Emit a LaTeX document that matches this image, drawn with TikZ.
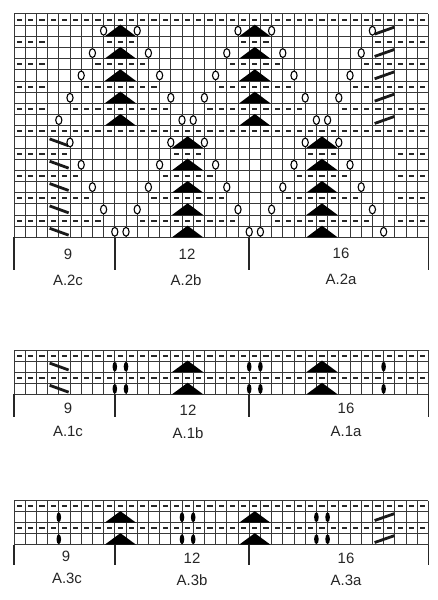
\documentclass[tikz,border=0pt]{standalone}
\usepackage{fontspec}
\setmainfont{Liberation Sans}
\newcommand\kDash[3]{\foreach \kk in {#2,...,#3} {\fill[black!85] (\kk-0.5,#1-0.5) ++(-2.6bp,-1bp) rectangle ++(5.2bp,2bp);}}
\newcommand\kTri[2]{\fill[black] (#1+0.1,#2) -- (#1+1.5,#2-1.05) -- (#1+2.9,#2) -- cycle;}
\newcommand\kYo[2]{\draw[yosym] (#1,#2-0.5) ellipse [x radius=3.1bp, y radius=4.4bp];}
\newcommand\kBob[2]{\fill[black] (#1,#2-0.5) ellipse [x radius=2.3bp, y radius=5bp];}
\newcommand\kSlD[2]{\draw[cablesym] (#1+0.18,#2-0.82) -- (#1+1.88,#2-0.2);}
\newcommand\kSlU[2]{\draw[cablesym] (#1+0.2,#2-0.2) -- (#1+1.95,#2-0.82);}
\newcommand\kGrid[1]{%
  \foreach \ii in {0,...,37} {\draw[gridline] (\ii,0) -- (\ii,#1);}
  \foreach \jj in {0,...,#1} {\draw[gridline] (0,\jj) -- (37,\jj);}}
\begin{document}
\begin{tikzpicture}[x=1bp,y=-1bp,
  gridline/.style={line width=1bp, draw=black!78},
  tickline/.style={line width=1.6bp, draw=black!85},
  yosym/.style={draw=black, fill=white, line width=1.1bp},
  cablesym/.style={line width=2.8bp, draw=black!90},
  lbl/.style={font=\fontsize{15}{17}\selectfont, text=black!85, inner sep=0pt}]
\useasboundingbox (0,0) rectangle (438,600);
\fill[white] (0,0) rectangle (438,600);

% ---------------- A.2 ----------------
\begin{scope}[shift={(14,14)}, x=11.2bp, y=-11.17bp]
  \kGrid{20}
  \kDash{1}{1}{37}
  \kDash{11}{1}{37}
  \foreach \j in {0,...,3} {
    \pgfmathtruncatemacro\rr{3+2*\j}
    \pgfmathtruncatemacro\pA{9-\j}
    \pgfmathtruncatemacro\pB{11+\j}
    \pgfmathtruncatemacro\pC{21-\j}
    \pgfmathtruncatemacro\pD{23+\j}
    \pgfmathtruncatemacro\pE{33-\j}
    \kDash{\rr}{1}{3}
    \kDash{\rr}{\pA}{\pB}
    \kDash{\rr}{\pC}{\pD}
    \kDash{\rr}{\pE}{37}
  }
  \foreach \j in {0,...,3} {
    \pgfmathtruncatemacro\rr{13+2*\j}
    \pgfmathtruncatemacro\pA{5+\j}
    \pgfmathtruncatemacro\pB{15-\j}
    \pgfmathtruncatemacro\pC{17+\j}
    \pgfmathtruncatemacro\pD{27-\j}
    \pgfmathtruncatemacro\pE{29+\j}
    \kDash{\rr}{1}{\pA}
    \kDash{\rr}{\pB}{\pC}
    \kDash{\rr}{\pD}{\pE}
    \kDash{\rr}{35}{37}
  }
  \foreach \j in {0,...,4} {
    \pgfmathtruncatemacro\rr{2+2*\j}
    \kTri{8}{\rr} \kTri{20}{\rr} \kSlU{32}{\rr}
    \kYo{8-\j}{\rr} \kYo{11+\j}{\rr} \kYo{20-\j}{\rr} \kYo{23+\j}{\rr} \kYo{32-\j}{\rr}
  }
  \foreach \j in {0,...,4} {
    \pgfmathtruncatemacro\rr{12+2*\j}
    \kTri{14}{\rr} \kTri{26}{\rr} \kSlD{3}{\rr}
    \kYo{5+\j}{\rr} \kYo{14-\j}{\rr} \kYo{17+\j}{\rr} \kYo{26-\j}{\rr} \kYo{29+\j}{\rr}
  }
\end{scope}
\foreach \xx in {14,114.8,249.2,428.4} {\draw[tickline] (\xx,237.4) -- (\xx,270);}
\node[lbl] (n2c) at (68,254) {9};
\node[lbl] (l2c) at (68,280) {A.2c};
\node[lbl] (n2b) at (187,254) {12};
\node[lbl] (l2b) at (186,280) {A.2b};
\node[lbl] (n2a) at (341,253) {16};
\node[lbl] (l2a) at (341,279) {A.2a};

% ---------------- A.1 ----------------
\begin{scope}[shift={(14,350)}, x=11.2bp, y=-11.1bp]
  \kGrid{4}
  \kDash{1}{1}{37}
  \kDash{3}{1}{37}
  \foreach \rr in {2,4} {
    \kSlD{3}{\rr} \kTri{14}{\rr} \kTri{26}{\rr}
    \kBob{9}{\rr} \kBob{10}{\rr} \kBob{21}{\rr} \kBob{22}{\rr} \kBob{33}{\rr}
  }
\end{scope}
\foreach \xx in {14,114.8,249.2,428.4} {\draw[tickline] (\xx,394.4) -- (\xx,417);}
\node[lbl] (n1c) at (68,408) {9};
\node[lbl] (l1c) at (68,431) {A.1c};
\node[lbl] (n1b) at (188,410) {12};
\node[lbl] (l1b) at (188,433) {A.1b};
\node[lbl] (n1a) at (346,408) {16};
\node[lbl] (l1a) at (346,431) {A.1a};

% ---------------- A.3 ----------------
\begin{scope}[shift={(14,500.7)}, x=11.2bp, y=-11.0bp]
  \kGrid{4}
  \kDash{1}{1}{37}
  \kDash{3}{1}{37}
  \foreach \rr in {2,4} {
    \kTri{8}{\rr} \kTri{20}{\rr} \kSlU{32}{\rr}
    \kBob{4}{\rr} \kBob{15}{\rr} \kBob{16}{\rr} \kBob{27}{\rr} \kBob{28}{\rr}
  }
\end{scope}
\foreach \xx in {14,114.8,249.2,428.4} {\draw[tickline] (\xx,544.7) -- (\xx,565);}
\node[lbl] (n3c) at (66,556) {9};
\node[lbl] (l3c) at (67,578) {A.3c};
\node[lbl] (n3b) at (192,558) {12};
\node[lbl] (l3b) at (192,580) {A.3b};
\node[lbl] (n3a) at (346,558) {16};
\node[lbl] (l3a) at (346,580) {A.3a};
\end{tikzpicture}
\end{document}
